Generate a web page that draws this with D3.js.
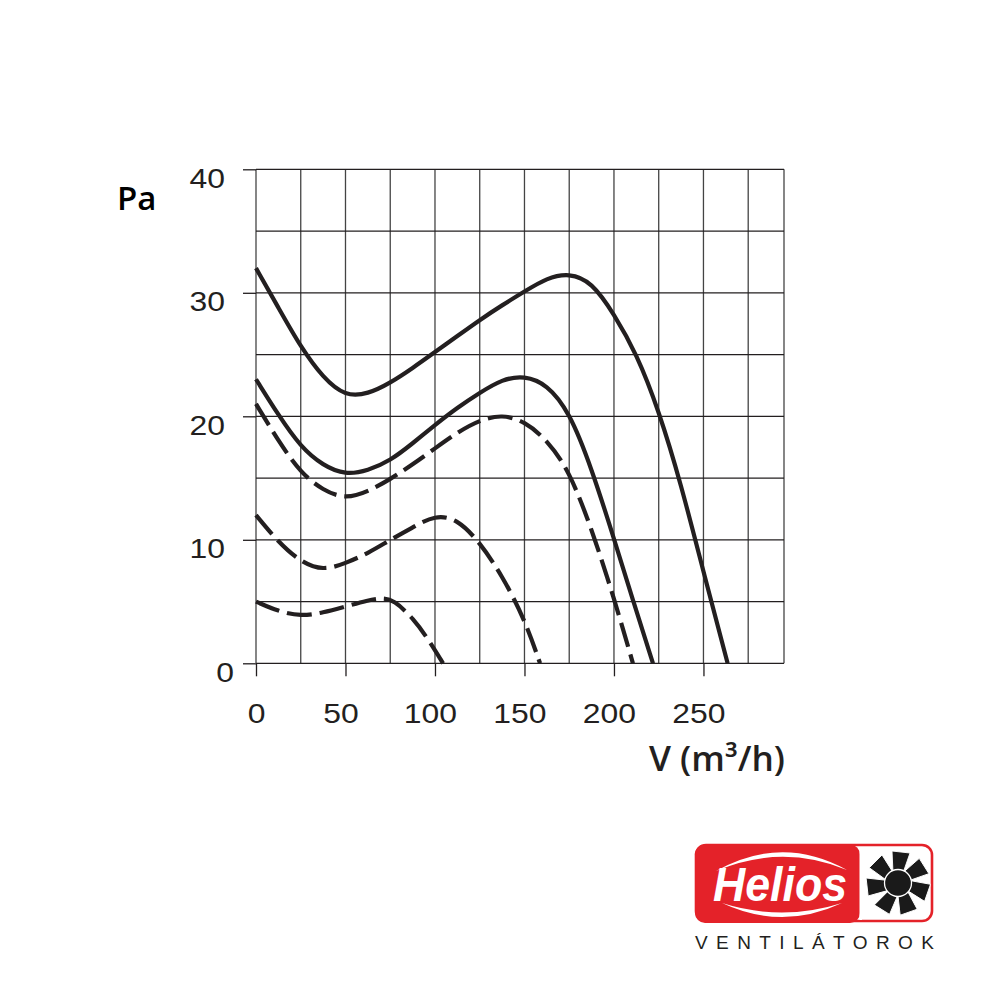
<!DOCTYPE html>
<html><head><meta charset="utf-8">
<script src="https://cdn.jsdelivr.net/npm/d3@7"></script>
<style>html,body{margin:0;padding:0;background:#fff;}svg{display:block;}</style>
</head><body>
<svg id="chart" width="1000" height="1000"></svg>
<script>
// ---- data ----
const xTicks = [0, 50, 100, 150, 200, 250];
const yTicks = [0, 10, 20, 30, 40];
const xGrid = [0, 25, 50, 75, 100, 125, 150, 175, 200, 225, 250, 275, 295];
const yGrid = [0, 5, 10, 15, 20, 25, 30, 35, 40];

const curveA_v = [0, 12.5, 25, 37.5, 50, 62.5, 75, 87.5, 100, 112.5, 125, 137.5, 150, 162.5, 175, 187.5, 200, 212.5, 225, 237.5, 250, 263.5];
const curveA_p = [32, 28.8, 25.6, 23.1, 21.6, 21.8, 22.7, 23.9, 25.2, 26.5, 27.8, 29.0, 30.1, 31.2, 31.6, 30.9, 28.3, 25.1, 20.5, 14.5, 7.4, 0];

const curveB_v = [0, 12.5, 25, 37.5, 50, 62.5, 75, 87.5, 100, 112.5, 125, 137.5, 150, 162.5, 175, 187.5, 200, 210.6, 221.8];
const curveB_p = [23, 20.1, 17.5, 16.0, 15.25, 15.6, 16.4, 17.8, 19.3, 20.7, 21.9, 23.0, 23.3, 22.6, 20.4, 15.8, 10.1, 5.1, 0];

const curveC_v = [0, 12.5, 25, 37.5, 50, 62.5, 75, 87.5, 100, 112.5, 125, 137.5, 150, 162.5, 175, 187.5, 200, 210.6];
const curveC_p = [21.0, 18.0, 15.4, 14.0, 13.3, 13.9, 14.9, 16.1, 17.4, 18.7, 19.7, 20.15, 19.6, 18.1, 15.6, 10.9, 5.3, 0];

const curveD_v = [0, 12.5, 25, 37.5, 50, 62.5, 75, 87.5, 100, 112.5, 125, 137.5, 150, 158.7];
const curveD_p = [12.0, 9.8, 8.2, 7.5, 8.1, 8.9, 10.0, 11.0, 12.0, 11.7, 9.8, 7.1, 3.6, 0];

const curveE_v = [0, 12.5, 25, 37.5, 50, 62.5, 70, 77, 88, 96, 104.5];
const curveE_p = [5.0, 4.2, 3.8, 4.1, 4.6, 5.1, 5.3, 5.15, 3.6, 2.0, 0];

const seriesList = [
  {v: curveA_v, p: curveA_p, dashed: false},
  {v: curveB_v, p: curveB_p, dashed: false},
  {v: curveC_v, p: curveC_p, dashed: true},
  {v: curveD_v, p: curveD_p, dashed: true},
  {v: curveE_v, p: curveE_p, dashed: true}
];

const yTitle = "Pa";
const xTitle = "V (m³/h)";
const brand = "Helios";
const brandSub = "VENTILÁTOROK";

// ---- layout ----
const svg = d3.select("#chart");
const x = d3.scaleLinear().domain([0, 295]).range([256, 784]);
const y = d3.scaleLinear().domain([0, 40]).range([663.3, 169.3]);
const ink = "#231f20";

// grid
const g = svg.append("g");
g.append("g").selectAll("line").data(xGrid).join("line")
  .attr("x1", d => x(d)).attr("x2", d => x(d))
  .attr("y1", y(0)).attr("y2", y(40))
  .attr("stroke", "#444").attr("stroke-width", 1.3);
g.append("g").selectAll("line").data(yGrid).join("line")
  .attr("x1", x(0)).attr("x2", x(295))
  .attr("y1", d => y(d)).attr("y2", d => y(d))
  .attr("stroke", ink).attr("stroke-width", 1.3);

// axes (ticks + labels)
const SX = 1.12;
const FS = 28.5;
const xAxis = svg.append("g").attr("transform", `translate(0,${y(0)})`)
  .call(d3.axisBottom(x).tickValues(xTicks).tickSize(13).tickSizeOuter(0));
xAxis.select(".domain").remove();
xAxis.selectAll(".tick line").attr("stroke", ink).attr("stroke-width", 1.3);
xAxis.selectAll(".tick text")
  .attr("font-family", "'Liberation Sans', Arial, sans-serif").attr("font-size", FS)
  .attr("fill", ink).attr("y", 60).attr("dy", 0)
  .attr("x", d => d === 0 ? 0 : -5 / SX)
  .attr("transform", `scale(${SX},1)`);

const yAxis = svg.append("g").attr("transform", `translate(${x(0)},0)`)
  .call(d3.axisLeft(y).tickValues(yTicks).tickSize(13).tickSizeOuter(0));
yAxis.select(".domain").remove();
yAxis.selectAll(".tick line").attr("stroke", ink).attr("stroke-width", 1.3);
yAxis.selectAll(".tick text")
  .attr("font-family", "'Liberation Sans', Arial, sans-serif").attr("font-size", FS)
  .attr("fill", ink).attr("dy", 0).attr("y", 17.8)
  .attr("x", d => (d === 0 ? -22 : -31) / SX)
  .attr("transform", `scale(${SX},1)`);

// curves
const line = d3.line().x(d => x(d[0])).y(d => y(d[1])).curve(d3.curveBasis);
svg.append("g").selectAll("path").data(seriesList).join("path")
  .attr("d", s => line(s.v.map((v, i) => [v, s.p[i]])))
  .attr("fill", "none").attr("stroke", ink).attr("stroke-width", 4.2)
  .attr("stroke-dasharray", s => s.dashed ? "25,8" : null);

// titles
svg.append("text").attr("x", 117).attr("y", 210)
  .attr("font-family", "'Open Sans', sans-serif").attr("font-weight", 600).attr("font-size", 33)
  .attr("fill", "#000").text(yTitle);
svg.append("text").attr("x", 785).attr("y", 771).attr("text-anchor", "end")
  .attr("font-family", "'Open Sans', sans-serif").attr("font-weight", 600).attr("font-size", 34)
  .attr("textLength", 136).attr("lengthAdjust", "spacingAndGlyphs")
  .attr("fill", ink).text(xTitle);

// logo
const red = "#e42229";
const logo = svg.append("g");
logo.append("rect").attr("x", 696).attr("y", 845).attr("width", 236).attr("height", 76)
  .attr("rx", 10).attr("fill", "#fff").attr("stroke", red).attr("stroke-width", 2.6);
logo.append("rect").attr("x", 695).attr("y", 844.5).attr("width", 165).attr("height", 78.5)
  .attr("rx", 10).attr("fill", red);
logo.append("rect").attr("x", 859.5).attr("y", 847).attr("width", 2.5).attr("height", 73).attr("fill", "#fff");
logo.append("path").attr("d", "M716,871 Q782,834 847,870 Q782,843 716,871 Z").attr("fill", "#fff");
logo.append("path").attr("d", "M722,903 Q782,931 842,903 Q782,922 722,903 Z").attr("fill", "#fff");
logo.append("text").attr("x", 713).attr("y", 901)
  .attr("font-family", "'Liberation Sans', Arial, sans-serif").attr("font-weight", 700)
  .attr("font-style", "italic").attr("font-size", 48)
  .attr("textLength", 134).attr("lengthAdjust", "spacingAndGlyphs")
  .attr("fill", "#fff").text(brand);

const fan = logo.append("g").attr("transform", "translate(898,883)");
const blade = "M-5,-10 L5,-10 L12,-30 L-6,-32 Z";
fan.selectAll("path").data(d3.range(7)).join("path")
  .attr("d", blade).attr("transform", i => `rotate(${i * 360 / 7})`)
  .attr("fill", "#1a1a1a").attr("stroke", "#fff").attr("stroke-width", 0.9);
fan.append("circle").attr("r", 13.5).attr("fill", "#1a1a1a").attr("stroke", "#fff").attr("stroke-width", 1.3);

logo.append("text").attr("x", 695).attr("y", 949)
  .attr("font-family", "'Liberation Sans', Arial, sans-serif").attr("font-size", 19)
  .attr("textLength", 239).attr("lengthAdjust", "spacing")
  .attr("fill", ink).text(brandSub);
</script>
</body></html>
